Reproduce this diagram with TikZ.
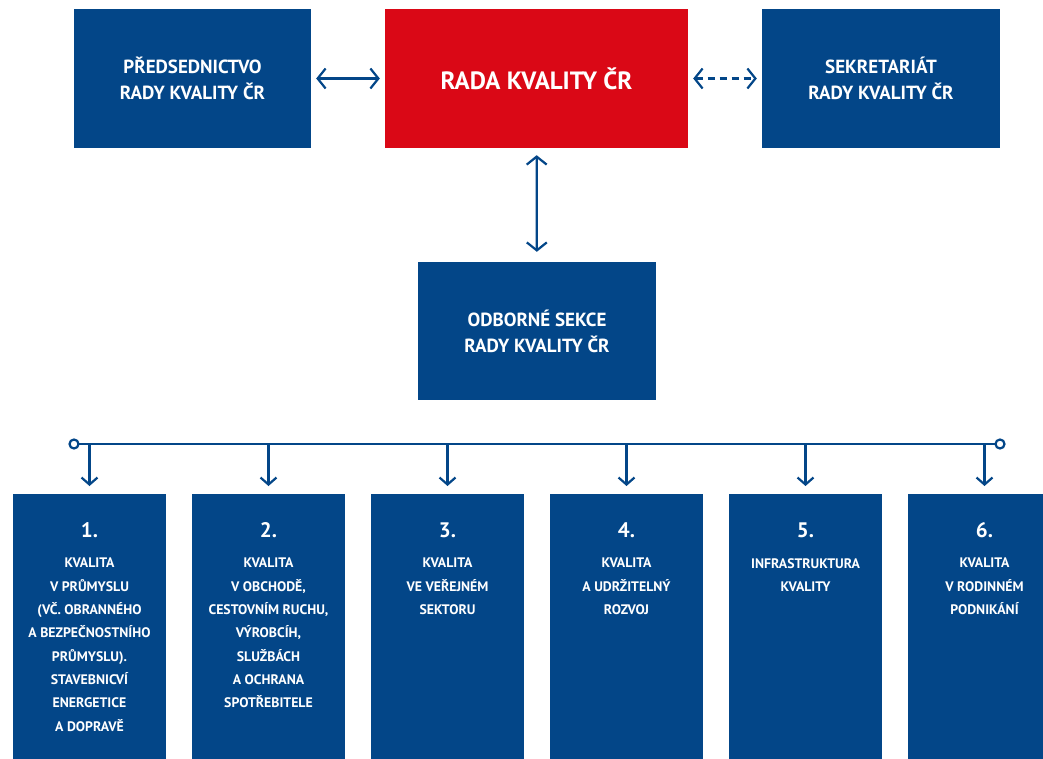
\documentclass[tikz,border=0pt]{standalone}
\usepackage{fontspec}
\setmainfont{PT Sans}
\usepackage{xcolor}
\usetikzlibrary{arrows.meta}

\definecolor{rkblue}{RGB}{3,70,136}
\definecolor{rkred}{RGB}{218,8,22}

\tikzset{
  orgbox/.style={fill=rkblue, text=white, inner sep=0pt, align=center},
  topbox/.style={orgbox, minimum width=238pt, minimum height=139pt,
    font=\bfseries\fontsize{19}{26}\selectfont},
  sekbox/.style={orgbox, minimum width=153pt, minimum height=280pt, anchor=north},
  link/.style={draw=rkblue, line width=2.2pt,
    {Straight Barb[length=8pt,width=20pt]}-{Straight Barb[length=8pt,width=20pt]}},
  drop/.style={draw=rkblue, line width=2.2pt, -{Straight Barb[length=7pt,width=16pt]}},
  numtext/.style={text=white, font=\bfseries\fontsize{21}{24}\selectfont},
  sektext/.style={text=white, align=center, anchor=north, inner sep=0pt,
    font=\bfseries\fontsize{13.8}{23.3}\selectfont},
}

\begin{document}
\begin{tikzpicture}[x=1pt, y=-1pt]
  \clip (0,0) rectangle (1043,759);
  \fill[white] (0,0) rectangle (1043,759);

  % top row
  \node[topbox, minimum width=237pt] (pred) at (192.5,78.5) {PŘEDSEDNICTVO\\RADY KVALITY ČR};
  \node[topbox, fill=rkred, minimum width=303pt, font=\bfseries\fontsize{25}{26}\selectfont]
    (rada) at (536.5,78.5) {RADA KVALITY ČR};
  \node[topbox] (sekr) at (881,78.5) {SEKRETARIÁT\\RADY KVALITY ČR};
  \node[topbox, minimum height=138pt] (odb) at (537,331) {ODBORNÉ SEKCE\\RADY KVALITY ČR};

  \draw[link, shorten <=5pt, shorten >=5pt] (pred) -- (rada);
  \draw[link, dash pattern=on 7pt off 5pt, shorten <=5pt, shorten >=5pt] (rada) -- (sekr);
  \draw[link, shorten <=7pt, shorten >=10pt] (rada) -- (odb);

  % bus line
  \coordinate (busL) at (74,444);
  \coordinate (busR) at (1000,444);
  \draw[rkblue, line width=2.2pt] (busL) -- (busR);
  \node[circle, draw=rkblue, line width=2.2pt, fill=white, inner sep=0pt, minimum size=9pt] (endL) at (busL) {};
  \node[circle, draw=rkblue, line width=2.2pt, fill=white, inner sep=0pt, minimum size=9pt] (endR) at (busR) {};

  % sections
  \foreach \i/\t in {
      1/{KVALITA\\V PRŮMYSLU\\(VČ. OBRANNÉHO\\A BEZPEČNOSTNÍHO\\PRŮMYSLU).\\STAVEBNICVÍ\\ENERGETICE\\A DOPRAVĚ},
      2/{KVALITA\\V OBCHODĚ,\\CESTOVNÍM RUCHU,\\VÝROBCÍH,\\SLUŽBÁCH\\A OCHRANA\\SPOTŘEBITELE},
      3/{KVALITA\\VE VEŘEJNÉM\\SEKTORU},
      4/{KVALITA\\A UDRŽITELNÝ\\ROZVOJ},
      5/{INFRASTRUKTURA\\KVALITY},
      6/{KVALITA\\V RODINNÉM\\PODNIKÁNÍ}} {
    \node[sekbox] (sek\i) at (89.5+179*\i-179,494) {};
    \coordinate (tap\i) at (89.5+179*\i-179,444);
    \draw[drop, shorten >=8pt] (tap\i) -- (sek\i.north);
    \node[numtext] (num\i) at ([yshift=-36pt]sek\i.north) {\i.};
    \node[sektext] (txt\i) at ([yshift=-64pt]sek\i.north) {\t};
  }
\end{tikzpicture}
\end{document}
